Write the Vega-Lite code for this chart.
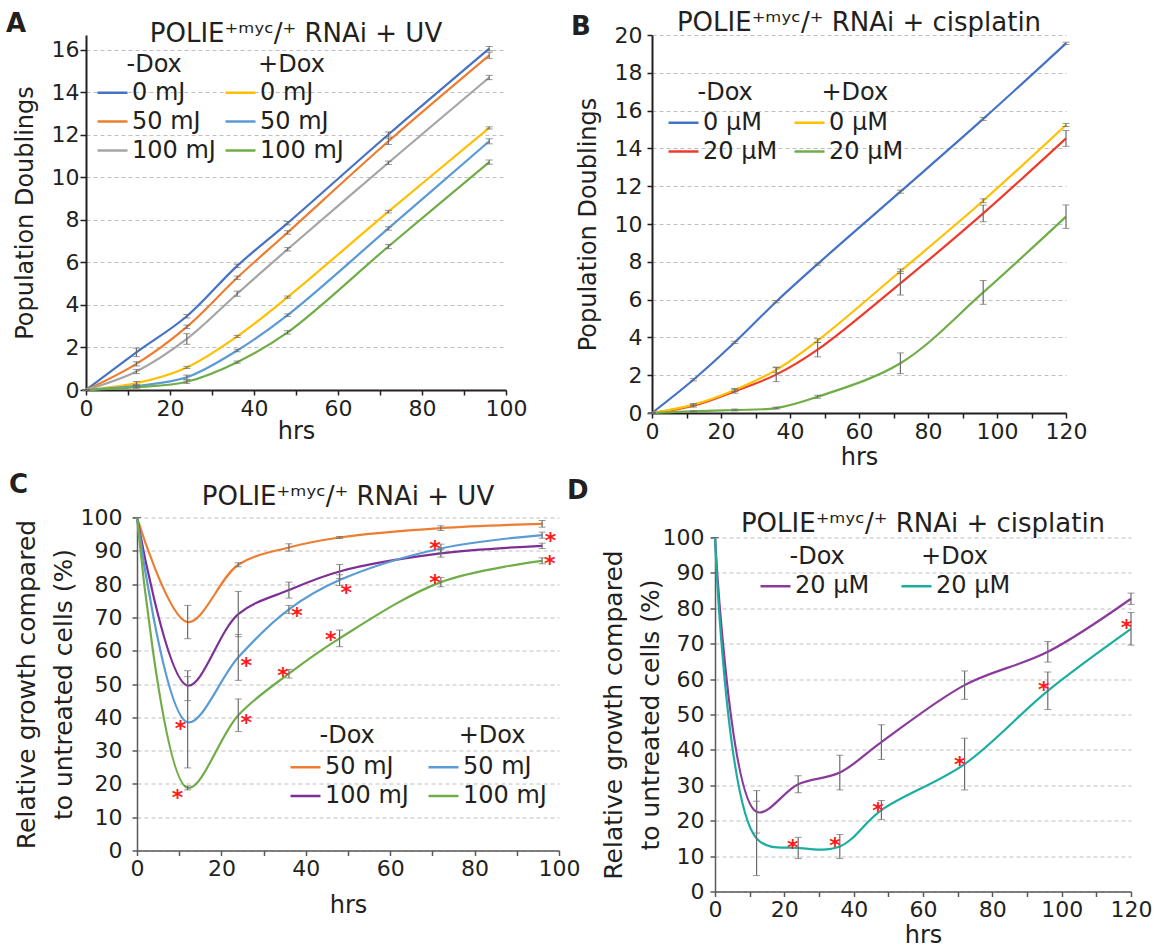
{
  "$schema": "https://vega.github.io/schema/vega-lite/v6.json",
  "padding": {"left": 6, "top": 10, "right": 0, "bottom": 0},
  "background": "white",
  "config": {
    "font": "DejaVu Sans",
    "view": {"stroke": null},
    "title": {"font": "DejaVu Sans", "fontSize": 26, "fontWeight": "normal", "color": "#231f20"},
    "axis": {"labelFont": "DejaVu Sans", "titleFont": "DejaVu Sans", "labelFontSize": 22, "titleFontSize": 24, "titleFontWeight": "normal", "labelColor": "#231f20", "titleColor": "#231f20", "domainColor": "#231f20", "tickColor": "#231f20", "domainWidth": 2, "tickWidth": 1.5, "gridColor": "#bfbfbf", "gridDash": [4, 3], "labelFlush": false, "labelOverlap": false},
    "axisX": {"grid": false, "tickSize": 5, "labelPadding": 3, "titlePadding": 0},
    "axisY": {"grid": true, "tickSize": 5},
    "legend": {"labelFont": "DejaVu Sans", "titleFont": "DejaVu Sans", "labelFontSize": 24, "titleFontSize": 24, "titleFontWeight": "normal", "labelColor": "#231f20", "titleColor": "#231f20", "symbolType": "stroke", "symbolSize": 900, "symbolStrokeWidth": 2.5, "labelOffset": 3, "padding": 0, "orient": "none", "columns": 2, "titleLimit": 1000, "labelLimit": 500}
  },
  "datasets": {
    "A": [
      {"s": "-Dox 0 mJ", "x": 0, "y": 0, "e": 0}, {"s": "-Dox 0 mJ", "x": 12, "y": 1.77, "e": 0.2}, {"s": "-Dox 0 mJ", "x": 24, "y": 3.47, "e": 0.08}, {"s": "-Dox 0 mJ", "x": 36, "y": 5.84, "e": 0.08}, {"s": "-Dox 0 mJ", "x": 48, "y": 7.85, "e": 0.08}, {"s": "-Dox 0 mJ", "x": 72, "y": 12.02, "e": 0.12}, {"s": "-Dox 0 mJ", "x": 96, "y": 16.06, "e": 0.1},
      {"s": "-Dox 50 mJ", "x": 0, "y": 0, "e": 0}, {"s": "-Dox 50 mJ", "x": 12, "y": 1.23, "e": 0.1}, {"s": "-Dox 50 mJ", "x": 24, "y": 2.97, "e": 0.08}, {"s": "-Dox 50 mJ", "x": 36, "y": 5.28, "e": 0.08}, {"s": "-Dox 50 mJ", "x": 48, "y": 7.41, "e": 0.08}, {"s": "-Dox 50 mJ", "x": 72, "y": 11.7, "e": 0.15}, {"s": "-Dox 50 mJ", "x": 96, "y": 15.74, "e": 0.15},
      {"s": "-Dox 100 mJ", "x": 0, "y": 0, "e": 0}, {"s": "-Dox 100 mJ", "x": 12, "y": 0.87, "e": 0.1}, {"s": "-Dox 100 mJ", "x": 24, "y": 2.4, "e": 0.25}, {"s": "-Dox 100 mJ", "x": 36, "y": 4.53, "e": 0.12}, {"s": "-Dox 100 mJ", "x": 48, "y": 6.62, "e": 0.08}, {"s": "-Dox 100 mJ", "x": 72, "y": 10.69, "e": 0.08}, {"s": "-Dox 100 mJ", "x": 96, "y": 14.7, "e": 0.1},
      {"s": "+Dox 0 mJ", "x": 0, "y": 0, "e": 0}, {"s": "+Dox 0 mJ", "x": 12, "y": 0.32, "e": 0.08}, {"s": "+Dox 0 mJ", "x": 24, "y": 1.06, "e": 0.05}, {"s": "+Dox 0 mJ", "x": 36, "y": 2.52, "e": 0.05}, {"s": "+Dox 0 mJ", "x": 48, "y": 4.37, "e": 0.05}, {"s": "+Dox 0 mJ", "x": 72, "y": 8.39, "e": 0.06}, {"s": "+Dox 0 mJ", "x": 96, "y": 12.33, "e": 0.05},
      {"s": "+Dox 50 mJ", "x": 0, "y": 0, "e": 0}, {"s": "+Dox 50 mJ", "x": 12, "y": 0.19, "e": 0.05}, {"s": "+Dox 50 mJ", "x": 24, "y": 0.6, "e": 0.1}, {"s": "+Dox 50 mJ", "x": 36, "y": 1.86, "e": 0.06}, {"s": "+Dox 50 mJ", "x": 48, "y": 3.52, "e": 0.06}, {"s": "+Dox 50 mJ", "x": 72, "y": 7.6, "e": 0.08}, {"s": "+Dox 50 mJ", "x": 96, "y": 11.7, "e": 0.12},
      {"s": "+Dox 100 mJ", "x": 0, "y": 0, "e": 0}, {"s": "+Dox 100 mJ", "x": 12, "y": 0.13, "e": 0.05}, {"s": "+Dox 100 mJ", "x": 24, "y": 0.39, "e": 0.08}, {"s": "+Dox 100 mJ", "x": 36, "y": 1.31, "e": 0.05}, {"s": "+Dox 100 mJ", "x": 48, "y": 2.71, "e": 0.08}, {"s": "+Dox 100 mJ", "x": 72, "y": 6.75, "e": 0.1}, {"s": "+Dox 100 mJ", "x": 96, "y": 10.72, "e": 0.1}
    ],
    "B": [
      {"s": "-Dox 0 µM", "x": 0, "y": 0, "e": 0}, {"s": "-Dox 0 µM", "x": 12, "y": 1.76, "e": 0.06}, {"s": "-Dox 0 µM", "x": 24, "y": 3.74, "e": 0.06}, {"s": "-Dox 0 µM", "x": 36, "y": 5.89, "e": 0.06}, {"s": "-Dox 0 µM", "x": 48, "y": 7.88, "e": 0.06}, {"s": "-Dox 0 µM", "x": 72, "y": 11.71, "e": 0.08}, {"s": "-Dox 0 µM", "x": 96, "y": 15.56, "e": 0.08}, {"s": "-Dox 0 µM", "x": 120, "y": 19.56, "e": 0.06},
      {"s": "-Dox 20 µM", "x": 0, "y": 0, "e": 0}, {"s": "-Dox 20 µM", "x": 12, "y": 0.39, "e": 0.08}, {"s": "-Dox 20 µM", "x": 24, "y": 1.15, "e": 0.1}, {"s": "-Dox 20 µM", "x": 36, "y": 2.03, "e": 0.37}, {"s": "-Dox 20 µM", "x": 48, "y": 3.35, "e": 0.38}, {"s": "-Dox 20 µM", "x": 72, "y": 6.86, "e": 0.62}, {"s": "-Dox 20 µM", "x": 96, "y": 10.56, "e": 0.44}, {"s": "-Dox 20 µM", "x": 120, "y": 14.53, "e": 0.42},
      {"s": "+Dox 0 µM", "x": 0, "y": 0, "e": 0}, {"s": "+Dox 0 µM", "x": 12, "y": 0.44, "e": 0.05}, {"s": "+Dox 0 µM", "x": 24, "y": 1.22, "e": 0.08}, {"s": "+Dox 0 µM", "x": 36, "y": 2.28, "e": 0.15}, {"s": "+Dox 0 µM", "x": 48, "y": 3.83, "e": 0.1}, {"s": "+Dox 0 µM", "x": 72, "y": 7.5, "e": 0.12}, {"s": "+Dox 0 µM", "x": 96, "y": 11.23, "e": 0.1}, {"s": "+Dox 0 µM", "x": 120, "y": 15.24, "e": 0.08},
      {"s": "+Dox 20 µM", "x": 0, "y": 0, "e": 0}, {"s": "+Dox 20 µM", "x": 12, "y": 0.09, "e": 0.03}, {"s": "+Dox 20 µM", "x": 24, "y": 0.16, "e": 0.05}, {"s": "+Dox 20 µM", "x": 36, "y": 0.26, "e": 0.05}, {"s": "+Dox 20 µM", "x": 48, "y": 0.86, "e": 0.08}, {"s": "+Dox 20 µM", "x": 72, "y": 2.63, "e": 0.55}, {"s": "+Dox 20 µM", "x": 96, "y": 6.38, "e": 0.63}, {"s": "+Dox 20 µM", "x": 120, "y": 10.39, "e": 0.62}
    ],
    "C": [
      {"s": "-Dox 50 mJ", "x": 0, "y": 100, "e": 0}, {"s": "-Dox 50 mJ", "x": 12, "y": 68.6, "e": 5}, {"s": "-Dox 50 mJ", "x": 24, "y": 85.8, "e": 0.6}, {"s": "-Dox 50 mJ", "x": 36, "y": 91, "e": 1.1}, {"s": "-Dox 50 mJ", "x": 48, "y": 94, "e": 0.3}, {"s": "-Dox 50 mJ", "x": 72, "y": 96.8, "e": 0.7}, {"s": "-Dox 50 mJ", "x": 96, "y": 98.1, "e": 1},
      {"s": "-Dox 100 mJ", "x": 0, "y": 100, "e": 0}, {"s": "-Dox 100 mJ", "x": 12, "y": 49.5, "e": 4.5}, {"s": "-Dox 100 mJ", "x": 24, "y": 71, "e": 6.8}, {"s": "-Dox 100 mJ", "x": 36, "y": 78.2, "e": 2.4}, {"s": "-Dox 100 mJ", "x": 48, "y": 83.8, "e": 2.1}, {"s": "-Dox 100 mJ", "x": 72, "y": 89.2, "e": 1.1}, {"s": "-Dox 100 mJ", "x": 96, "y": 91.5, "e": 0.8},
      {"s": "+Dox 50 mJ", "x": 0, "y": 100, "e": 0}, {"s": "+Dox 50 mJ", "x": 12, "y": 38.5, "e": 13.7}, {"s": "+Dox 50 mJ", "x": 24, "y": 58, "e": 6.9}, {"s": "+Dox 50 mJ", "x": 36, "y": 72.4, "e": 1.2}, {"s": "+Dox 50 mJ", "x": 48, "y": 81.2, "e": 1.6}, {"s": "+Dox 50 mJ", "x": 72, "y": 90.7, "e": 1.3}, {"s": "+Dox 50 mJ", "x": 96, "y": 94.7, "e": 0.9},
      {"s": "+Dox 100 mJ", "x": 0, "y": 100, "e": 0}, {"s": "+Dox 100 mJ", "x": 12, "y": 18.8, "e": 0.6}, {"s": "+Dox 100 mJ", "x": 24, "y": 40.6, "e": 4.9}, {"s": "+Dox 100 mJ", "x": 36, "y": 53.1, "e": 1.3}, {"s": "+Dox 100 mJ", "x": 48, "y": 63.7, "e": 2.5}, {"s": "+Dox 100 mJ", "x": 72, "y": 80.6, "e": 1.4}, {"s": "+Dox 100 mJ", "x": 96, "y": 87, "e": 0.9}
    ],
    "Cstar": [
      {"x": 9.6, "y": 17.6}, {"x": 10.3, "y": 38.4}, {"x": 25.9, "y": 57.2}, {"x": 25.9, "y": 40.1}, {"x": 34.6, "y": 54.3}, {"x": 37.9, "y": 72.1}, {"x": 45.9, "y": 65.1}, {"x": 49.6, "y": 79.2}, {"x": 70.6, "y": 92.2}, {"x": 70.6, "y": 82}, {"x": 98, "y": 94.7}, {"x": 97.8, "y": 87.7}
    ],
    "D": [
      {"s": "-Dox 20 µM", "x": 0, "y": 100, "e": 0}, {"s": "-Dox 20 µM", "x": 12, "y": 22.5, "e": 6}, {"s": "-Dox 20 µM", "x": 24, "y": 30.3, "e": 2.4}, {"s": "-Dox 20 µM", "x": 36, "y": 33.6, "e": 4.9}, {"s": "-Dox 20 µM", "x": 48, "y": 42.2, "e": 4.9}, {"s": "-Dox 20 µM", "x": 72, "y": 58.3, "e": 4}, {"s": "-Dox 20 µM", "x": 96, "y": 67.7, "e": 2.9}, {"s": "-Dox 20 µM", "x": 120, "y": 82.7, "e": 1.6},
      {"s": "+Dox 20 µM", "x": 0, "y": 100, "e": 0}, {"s": "+Dox 20 µM", "x": 12, "y": 15, "e": 10.5}, {"s": "+Dox 20 µM", "x": 24, "y": 12.3, "e": 3}, {"s": "+Dox 20 µM", "x": 36, "y": 12.7, "e": 3.4}, {"s": "+Dox 20 µM", "x": 48, "y": 23, "e": 2.7}, {"s": "+Dox 20 µM", "x": 72, "y": 36, "e": 7.3}, {"s": "+Dox 20 µM", "x": 96, "y": 56.7, "e": 5.3}, {"s": "+Dox 20 µM", "x": 120, "y": 74.2, "e": 4.6}
    ],
    "Dstar": [
      {"x": 22.4, "y": 13.9}, {"x": 34.6, "y": 14.6}, {"x": 47, "y": 24.5}, {"x": 70.6, "y": 37.5}, {"x": 94.8, "y": 58.5}, {"x": 118.7, "y": 76.1}
    ],
    "empty": []
  },
  "vconcat": [
    {
      "hconcat": [
        {
          "title": {"text": "A", "anchor": "start", "frame": "bounds", "fontSize": 26, "fontWeight": "bold", "offset": -16, "dx": -7},
          "vconcat": [
            {
              "width": 420, "height": 355,
              "title": {"text": "POLIE\u207a\u1d50\u02b8\u1d9c/\u207a RNAi + UV", "offset": -12},
              "data": {"name": "A"},
              "encoding": {
                "x": {"field": "x", "type": "quantitative", "title": "hrs", "scale": {"domain": [0, 100]}, "axis": {"values": [0, 10, 20, 30, 40, 50, 60, 70, 80, 90, 100], "labelExpr": "datum.value % 20 == 0 ? datum.label : ''"}},
                "y": {"field": "y", "type": "quantitative", "title": "Population Doublings", "scale": {"domain": [0, 16.7], "nice": false}, "axis": {"values": [0, 2, 4, 6, 8, 10, 12, 14, 16], "minExtent": 38, "titlePadding": 11, "tickSize": 6, "labelPadding": 1}}
              },
              "layer": [
                {"mark": {"type": "line", "interpolate": "catmull-rom", "strokeWidth": 2.2},
                 "encoding": {"color": {"field": "s", "type": "nominal",
                   "scale": {"domain": ["-Dox 0 mJ", "-Dox 50 mJ", "-Dox 100 mJ", "+Dox 0 mJ", "+Dox 50 mJ", "+Dox 100 mJ"], "range": ["#4472c4", "#ed7d31", "#a5a5a5", "#ffc000", "#5b9bd5", "#70ad47"]},
                   "legend": {"title": "\u200b\u00a0\u00a0\u00a0\u00a0-Dox\u00a0\u00a0\u00a0\u00a0\u00a0\u00a0\u00a0\u00a0\u00a0\u00a0+Dox", "legendX": 10, "legendY": 18, "columnPadding": 4, "rowPadding": -1, "titlePadding": -1, "labelExpr": "slice(datum.label, 5)"}}}},
                {"mark": {"type": "errorbar", "ticks": {"size": 7, "color": "#6b6b6b"}, "rule": {"color": "#6b6b6b", "strokeWidth": 1.2}},
                 "encoding": {"yError": {"field": "e"}}}
              ]
            }
          ],
          "resolve": {"scale": {"color": "independent"}}
        },
        {
          "title": {"text": "B", "anchor": "start", "frame": "bounds", "fontSize": 26, "fontWeight": "bold", "offset": -29.5, "dx": -5},
          "vconcat": [
            {
              "width": 414, "height": 378,
              "title": {"text": "POLIE\u207a\u1d50\u02b8\u1d9c/\u207a RNAi + cisplatin", "offset": -12},
              "data": {"name": "B"},
              "encoding": {
                "x": {"field": "x", "type": "quantitative", "title": "hrs", "scale": {"domain": [0, 120]}, "axis": {"values": [0, 10, 20, 30, 40, 50, 60, 70, 80, 90, 100, 110, 120], "labelExpr": "datum.value % 20 == 0 ? datum.label : ''", "titlePadding": 3}},
                "y": {"field": "y", "type": "quantitative", "title": "Population Doublings", "scale": {"domain": [0, 20], "nice": false}, "axis": {"values": [0, 2, 4, 6, 8, 10, 12, 14, 16, 18, 20], "minExtent": 43, "titlePadding": 9, "labelPadding": 5}}
              },
              "layer": [
                {"mark": {"type": "line", "interpolate": "catmull-rom", "strokeWidth": 2.2},
                 "encoding": {"color": {"field": "s", "type": "nominal",
                   "scale": {"domain": ["-Dox 0 µM", "-Dox 20 µM", "+Dox 0 µM", "+Dox 20 µM"], "range": ["#4472c4", "#ee3a2b", "#ffc000", "#70ad47"]},
                   "legend": {"title": "\u200b\u00a0\u00a0\u00a0\u00a0-Dox\u00a0\u00a0\u00a0\u00a0\u00a0\u00a0\u00a0\u00a0\u00a0+Dox", "legendX": 15, "legendY": 46, "columnPadding": 11, "rowPadding": -2, "titlePadding": 1, "labelExpr": "slice(datum.label, 5)"}}}},
                {"mark": {"type": "errorbar", "ticks": {"size": 7, "color": "#6b6b6b"}, "rule": {"color": "#6b6b6b", "strokeWidth": 1.2}},
                 "encoding": {"yError": {"field": "e"}}}
              ]
            }
          ],
          "resolve": {"scale": {"color": "independent"}}
        }
      ],
      "spacing": 44,
      "align": "none",
      "resolve": {"scale": {"color": "independent"}}
    },
    {
      "hconcat": [
        {"width": 1, "height": 1, "data": {"name": "empty"}, "mark": {"type": "point", "opacity": 0}},
        {
          "hconcat": [
            {
              "title": {"text": "C", "anchor": "start", "frame": "bounds", "fontSize": 26, "fontWeight": "bold", "offset": -14, "dx": -5},
              "vconcat": [
                {
                  "width": 422, "height": 333,
                  "title": {"text": "POLIE\u207a\u1d50\u02b8\u1d9c/\u207a RNAi + UV", "offset": -3},
                  "encoding": {
                    "x": {"field": "x", "type": "quantitative", "title": "hrs", "scale": {"domain": [0, 100]}, "axis": {"values": [0, 10, 20, 30, 40, 50, 60, 70, 80, 90, 100], "labelExpr": "datum.value % 20 == 0 ? datum.label : ''", "titlePadding": 14, "domainWidth": 1.5, "domainColor": "#595959", "tickColor": "#595959"}},
                    "y": {"field": "y", "type": "quantitative", "title": ["Relative growth compared", "to untreated cells (%)"], "scale": {"domain": [0, 100], "nice": false}, "axis": {"values": [0, 10, 20, 30, 40, 50, 60, 70, 80, 90, 100], "minExtent": 57, "titlePadding": 4, "labelPadding": 10, "titleFontSize": 25, "titleLineHeight": 37, "domainWidth": 1.5, "domainColor": "#595959", "tickColor": "#595959"}}
                  },
                  "layer": [
                    {"data": {"name": "C"}, "mark": {"type": "line", "interpolate": "catmull-rom", "strokeWidth": 2.2},
                     "encoding": {"color": {"field": "s", "type": "nominal",
                       "scale": {"domain": ["-Dox 50 mJ", "-Dox 100 mJ", "+Dox 50 mJ", "+Dox 100 mJ"], "range": ["#ed7d31", "#7e2f95", "#5b9bd5", "#70ad47"]},
                       "legend": {"title": "\u200b\u00a0\u00a0\u00a0\u00a0-Dox\u00a0\u00a0\u00a0\u00a0\u00a0\u00a0\u00a0\u00a0\u00a0\u00a0\u00a0+Dox", "legendX": 152, "legendY": 206, "columnPadding": 14, "rowPadding": 0, "titlePadding": 3, "labelExpr": "slice(datum.label, 5)"}}}},
                    {"data": {"name": "C"}, "mark": {"type": "errorbar", "ticks": {"size": 7, "color": "#6b6b6b"}, "rule": {"color": "#6b6b6b", "strokeWidth": 1.2}},
                     "encoding": {"yError": {"field": "e"}}},
                    {"data": {"name": "Cstar"}, "mark": {"type": "text", "text": "*", "color": "#ff1a1a", "fontSize": 22, "fontWeight": "bold", "baseline": "alphabetic", "dy": 13}}
                  ]
                }
              ],
              "resolve": {"scale": {"color": "independent"}}
            },
            {
              "title": {"text": "D", "anchor": "start", "frame": "bounds", "fontSize": 26, "fontWeight": "bold", "offset": 6.5, "dx": -34},
              "vconcat": [
                {"width": 1, "height": 1, "data": {"name": "empty"}, "mark": {"type": "point", "opacity": 0}},
                {
                  "width": 416, "height": 354,
                  "title": {"text": "POLIE\u207a\u1d50\u02b8\u1d9c/\u207a RNAi + cisplatin", "offset": -10},
                  "encoding": {
                    "x": {"field": "x", "type": "quantitative", "title": "hrs", "scale": {"domain": [0, 120]}, "axis": {"values": [0, 10, 20, 30, 40, 50, 60, 70, 80, 90, 100, 110, 120], "labelExpr": "datum.value % 20 == 0 ? datum.label : ''", "titlePadding": 3, "domainWidth": 1.5, "domainColor": "#595959", "tickColor": "#595959"}},
                    "y": {"field": "y", "type": "quantitative", "title": ["Relative growth compared", "to untreated cells (%)"], "scale": {"domain": [0, 100], "nice": false}, "axis": {"values": [0, 10, 20, 30, 40, 50, 60, 70, 80, 90, 100], "minExtent": 54, "titlePadding": -2, "labelPadding": 6, "titleFontSize": 25, "titleLineHeight": 37, "domainWidth": 1.5, "domainColor": "#595959", "tickColor": "#595959"}}
                  },
                  "layer": [
                    {"data": {"name": "D"}, "mark": {"type": "line", "interpolate": "catmull-rom", "strokeWidth": 2.2},
                     "encoding": {"color": {"field": "s", "type": "nominal",
                       "scale": {"domain": ["-Dox 20 µM", "+Dox 20 µM"], "range": ["#8a3a9c", "#1aae9f"]},
                       "legend": {"title": "\u200b\u00a0\u00a0\u00a0\u00a0-Dox\u00a0\u00a0\u00a0\u00a0\u00a0\u00a0\u00a0\u00a0\u00a0\u00a0+Dox", "legendX": 44, "legendY": 7, "columnPadding": 26, "rowPadding": 0, "titlePadding": 1, "labelExpr": "slice(datum.label, 5)"}}}},
                    {"data": {"name": "D"}, "mark": {"type": "errorbar", "ticks": {"size": 7, "color": "#6b6b6b"}, "rule": {"color": "#6b6b6b", "strokeWidth": 1.2}},
                     "encoding": {"yError": {"field": "e"}}},
                    {"data": {"name": "Dstar"}, "mark": {"type": "text", "text": "*", "color": "#ff1a1a", "fontSize": 22, "fontWeight": "bold", "baseline": "alphabetic", "dy": 13}}
                  ]
                }
              ],
              "spacing": -8,
              "resolve": {"scale": {"color": "independent"}}
            }
          ],
          "spacing": -13,
          "align": "none",
          "resolve": {"scale": {"color": "independent"}}
        }
      ],
      "spacing": -78,
      "align": "none",
      "resolve": {"scale": {"color": "independent"}}
    }
  ],
  "spacing": 2.5,
  "align": "none",
  "resolve": {"scale": {"color": "independent"}}
}
